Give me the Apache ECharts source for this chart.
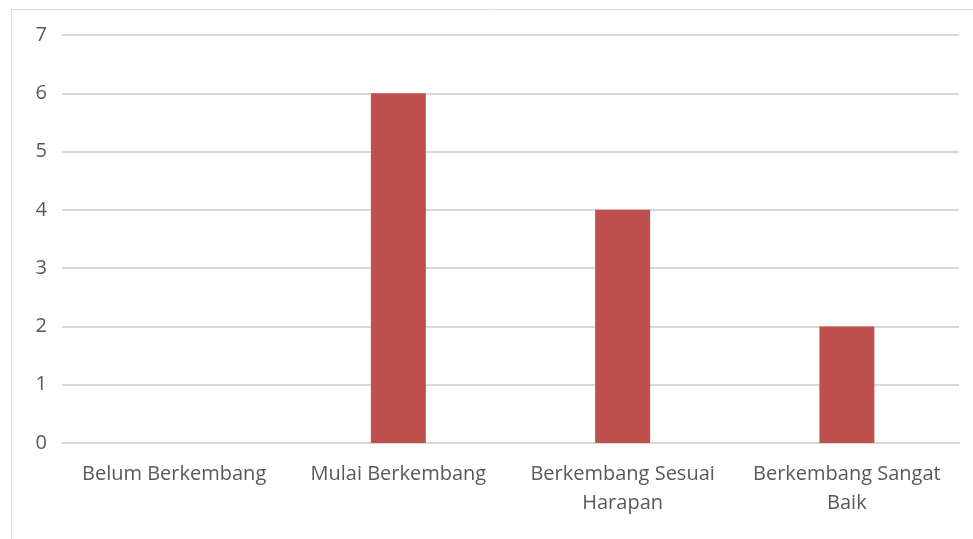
<!DOCTYPE html>
<html><head><meta charset="utf-8">
<script src="https://cdn.jsdelivr.net/npm/echarts@6/dist/echarts.min.js"></script>
<style>html,body{margin:0;padding:0;background:#fff}#c{width:973px;height:539px}</style>
</head><body><div id="c"></div>
<script>
const categories = ['Belum Berkembang', 'Mulai Berkembang', 'Berkembang Sesuai\nHarapan', 'Berkembang Sangat\nBaik'];
const values = [0, 6, 4, 2];
const yTicks = [0, 1, 2, 3, 4, 5, 6, 7];

const chart = echarts.init(document.getElementById('c'));
chart.setOption({
  animation: false,
  graphic: [{
    type: 'rect', shape: {x: 11.5, y: 9.5, width: 1000, height: 600},
    style: {fill: 'none', stroke: '#d9d9d9', lineWidth: 1}
  }],
  grid: {left: 62, right: 14, top: 35, bottom: 96},
  xAxis: {
    type: 'category', data: categories,
    axisLine: {show: true, lineStyle: {color: '#d9d9d9', width: 2}},
    axisTick: {show: false},
    axisLabel: {color: '#595959', fontFamily: 'Open Sans', fontSize: 20, lineHeight: 29, margin: 17, interval: 0}
  },
  yAxis: {
    type: 'value', min: 0, max: yTicks[yTicks.length - 1], interval: 1,
    axisLine: {show: false}, axisTick: {show: false},
    splitLine: {lineStyle: {color: '#d9d9d9', width: 2}},
    axisLabel: {color: '#595959', fontFamily: 'Open Sans', fontSize: 20, margin: 15}
  },
  series: [{
    type: 'bar', data: values, barWidth: 55,
    itemStyle: {color: '#c0504d'}
  }]
});
</script></body></html>
